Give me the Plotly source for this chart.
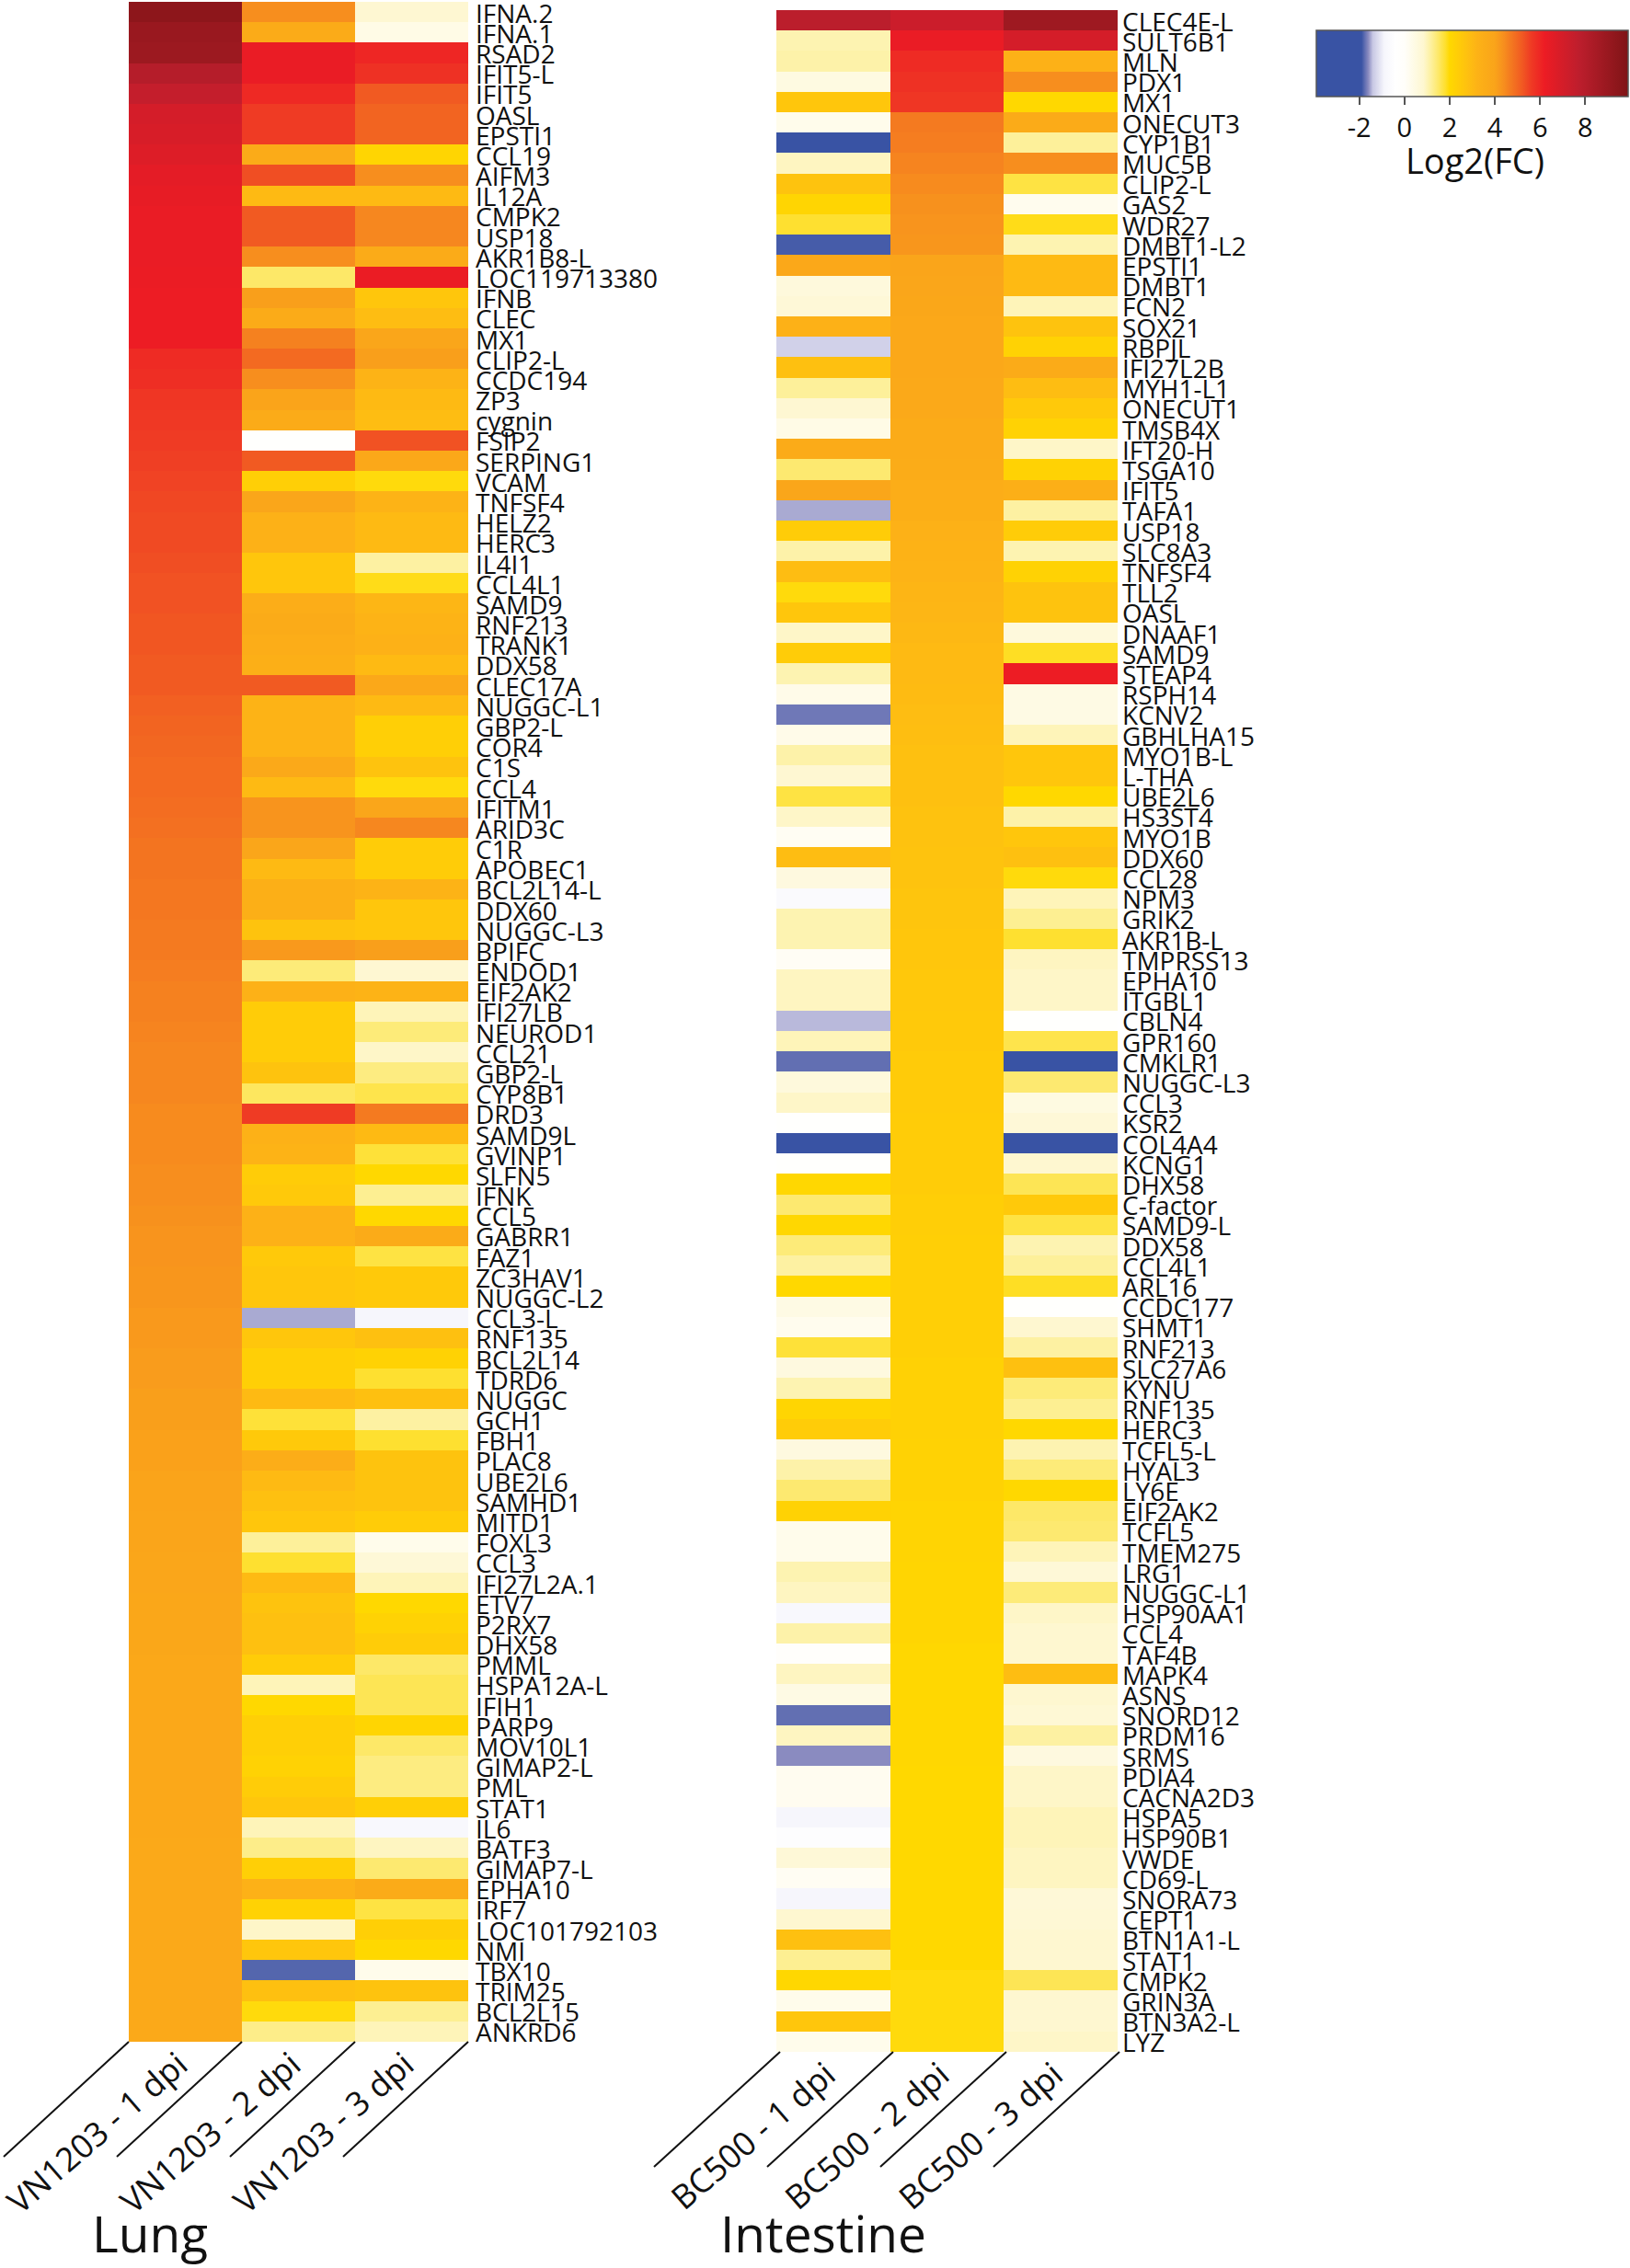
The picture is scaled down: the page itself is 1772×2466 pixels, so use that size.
import plotly.graph_objects as go

W, H = 1772, 2466
FONT = "Open Sans"

lung_genes = ["IFNA.2","IFNA.1","RSAD2","IFIT5-L","IFIT5","OASL","EPSTI1","CCL19","AIFM3","IL12A",
"CMPK2","USP18","AKR1B8-L","LOC119713380","IFNB","CLEC","MX1","CLIP2-L","CCDC194","ZP3",
"cygnin","FSIP2","SERPING1","VCAM","TNFSF4","HELZ2","HERC3","IL4I1","CCL4L1","SAMD9",
"RNF213","TRANK1","DDX58","CLEC17A","NUGGC-L1","GBP2-L","COR4","C1S","CCL4","IFITM1",
"ARID3C","C1R","APOBEC1","BCL2L14-L","DDX60","NUGGC-L3","BPIFC","ENDOD1","EIF2AK2","IFI27LB",
"NEUROD1","CCL21","GBP2-L","CYP8B1","DRD3","SAMD9L","GVINP1","SLFN5","IFNK","CCL5",
"GABRR1","FAZ1","ZC3HAV1","NUGGC-L2","CCL3-L","RNF135","BCL2L14","TDRD6","NUGGC","GCH1",
"FBH1","PLAC8","UBE2L6","SAMHD1","MITD1","FOXL3","CCL3","IFI27L2A.1","ETV7","P2RX7",
"DHX58","PMML","HSPA12A-L","IFIH1","PARP9","MOV10L1","GIMAP2-L","PML","STAT1","IL6",
"BATF3","GIMAP7-L","EPHA10","IRF7","LOC101792103","NMI","TBX10","TRIM25","BCL2L15","ANKRD6"]

lung_d1 = [9.4,9.0,8.9,8.0,7.5,7.0,6.9,6.7,6.5,6.4,
6.3,6.3,6.3,6.25,6.2,6.2,6.2,5.9,5.85,5.7,
5.65,5.6,5.55,5.5,5.45,5.4,5.4,5.35,5.3,5.3,
5.25,5.25,5.2,5.2,5.1,5.05,5.0,4.95,4.95,4.9,
4.85,4.8,4.8,4.75,4.75,4.7,4.7,4.65,4.6,4.6,
4.55,4.5,4.5,4.5,4.45,4.45,4.45,4.4,4.4,4.35,
4.3,4.3,4.25,4.25,4.2,4.2,4.15,4.15,4.1,4.1,
4.05,4.05,4.0,4.0,3.95,3.95,3.9,3.9,3.85,3.85,
3.85,3.8,3.8,3.8,3.8,3.75,3.75,3.75,3.75,3.75,
3.7,3.7,3.7,3.7,3.7,3.7,3.7,3.7,3.7,3.7]
lung_d2 = [4.4,3.6,6.3,6.3,5.95,5.6,5.6,3.6,5.35,3.0,
5.2,5.2,4.4,1.5,4.1,3.6,4.6,4.95,4.4,4.0,
3.6,-0.2,5.2,2.3,3.9,3.3,3.3,2.6,2.6,3.5,
3.6,3.5,3.4,5.2,3.2,3.2,3.2,3.7,3.0,4.3,
4.3,3.9,3.0,3.4,3.4,2.7,4.2,1.4,3.3,2.4,
2.4,2.4,2.7,1.55,5.6,3.3,3.2,2.4,2.5,3.3,
3.3,2.5,2.6,2.6,-1.5,2.6,2.3,2.3,3.0,1.75,
2.5,3.5,3.0,2.8,2.6,1.2,1.8,3.0,2.7,2.8,
2.8,2.4,1.0,2.0,2.3,2.3,2.2,2.4,2.6,1.0,
1.3,2.3,3.3,2.2,0.9,2.6,-1.8,2.8,1.95,1.3]
lung_d3 = [0.8,0.4,6.0,5.8,5.2,5.05,5.05,2.1,4.4,3.0,
4.5,4.5,3.6,6.25,2.6,2.9,3.9,4.1,3.2,3.0,
2.9,5.3,3.8,1.95,3.2,3.0,3.0,1.15,1.9,3.1,
3.2,3.3,3.0,3.8,3.0,2.3,2.3,2.7,1.95,3.9,
4.5,2.4,2.4,3.2,2.6,2.6,4.1,0.8,3.2,1.0,
1.4,0.9,1.35,1.65,4.7,3.0,1.75,2.0,1.25,2.0,
3.6,1.7,2.5,2.5,-0.9,2.8,2.2,1.8,2.8,1.15,
1.8,2.7,2.7,2.7,2.4,0.3,0.7,1.0,2.0,2.2,
2.4,1.5,1.6,1.6,2.1,1.5,1.35,1.35,2.3,-0.8,
0.95,1.45,3.6,1.7,2.3,2.0,0.3,2.7,1.25,1.0]

int_genes = ["CLEC4E-L","SULT6B1","MLN","PDX1","MX1","ONECUT3","CYP1B1","MUC5B","CLIP2-L","GAS2",
"WDR27","DMBT1-L2","EPSTI1","DMBT1","FCN2","SOX21","RBPJL","IFI27L2B","MYH1-L1","ONECUT1",
"TMSB4X","IFT20-H","TSGA10","IFIT5","TAFA1","USP18","SLC8A3","TNFSF4","TLL2","OASL",
"DNAAF1","SAMD9","STEAP4","RSPH14","KCNV2","GBHLHA15","MYO1B-L","L-THA","UBE2L6","HS3ST4",
"MYO1B","DDX60","CCL28","NPM3","GRIK2","AKR1B-L","TMPRSS13","EPHA10","ITGBL1","CBLN4",
"GPR160","CMKLR1","NUGGC-L3","CCL3","KSR2","COL4A4","KCNG1","DHX58","C-factor","SAMD9-L",
"DDX58","CCL4L1","ARL16","CCDC177","SHMT1","RNF213","SLC27A6","KYNU","RNF135","HERC3",
"TCFL5-L","HYAL3","LY6E","EIF2AK2","TCFL5","TMEM275","LRG1","NUGGC-L1","HSP90AA1","CCL4",
"TAF4B","MAPK4","ASNS","SNORD12","PRDM16","SRMS","PDIA4","CACNA2D3","HSPA5","HSP90B1",
"VWDE","CD69-L","SNORA73","CEPT1","BTN1A1-L","STAT1","CMPK2","GRIN3A","BTN3A2-L","LYZ"]

int_d1 = [7.8,1.05,1.1,0.5,2.6,0.3,-1.95,0.95,2.7,2.1,
1.8,-1.85,3.8,0.6,0.7,3.3,-1.3,2.8,1.2,0.8,
0.4,3.6,1.45,3.9,-1.5,2.4,1.1,2.9,1.95,2.6,
0.9,2.4,1.05,0.35,-1.7,0.35,1.1,0.8,1.7,0.9,
0.15,2.9,0.55,-0.7,1.05,1.05,0.1,0.95,0.95,-1.45,
1.0,-1.75,0.6,0.9,-0.2,-2.5,-0.2,2.05,1.45,2.05,
1.4,1.15,2.0,0.45,0.25,1.75,0.55,1.05,2.1,2.4,
0.55,1.1,1.45,2.2,0.3,0.3,1.05,0.95,-0.8,1.1,
-0.1,0.95,0.45,-1.75,0.95,-1.6,0.2,0.2,-0.9,-0.5,
0.7,0.15,-0.9,0.85,2.8,1.25,2.05,0.3,2.6,0.3]
int_d2 = [7.3,6.3,5.9,5.8,5.7,4.7,4.65,4.55,4.45,4.35,
4.3,4.25,3.95,3.9,3.85,3.8,3.8,3.75,3.7,3.7,
3.6,3.6,3.55,3.5,3.45,3.3,3.25,3.2,3.15,3.1,
3.05,3.0,3.0,2.95,2.9,2.85,2.8,2.8,2.8,2.75,
2.75,2.7,2.7,2.65,2.65,2.6,2.6,2.55,2.55,2.5,
2.5,2.45,2.45,2.45,2.4,2.4,2.4,2.4,2.35,2.35,
2.3,2.3,2.3,2.3,2.3,2.3,2.25,2.25,2.25,2.25,
2.2,2.2,2.2,2.15,2.15,2.15,2.1,2.1,2.1,2.1,
2.05,2.05,2.05,2.05,2.05,2.05,2.0,2.0,2.0,2.0,
2.0,2.0,2.0,2.0,2.0,2.0,1.95,1.95,1.95,1.95]
int_d3 = [8.8,7.0,3.3,4.4,2.0,3.6,1.2,4.4,1.7,0.25,
1.9,1.05,3.0,3.0,1.0,2.7,2.2,3.6,2.9,2.5,
2.2,0.9,2.2,3.4,1.15,2.4,1.05,2.2,2.7,2.7,
0.6,1.85,6.2,0.45,0.45,1.0,2.6,2.6,2.0,1.1,
2.6,2.8,1.95,1.0,1.25,1.8,0.95,0.9,0.9,-0.2,
1.65,-2.5,1.45,0.5,0.7,-2.5,0.85,1.6,2.5,1.7,
1.05,1.2,1.85,-0.2,0.85,1.15,2.8,1.4,1.25,2.0,
1.05,1.4,2.0,1.5,1.45,1.0,0.7,1.4,0.9,0.85,
0.85,2.9,0.85,0.75,1.15,0.55,0.9,0.9,1.0,1.0,
0.95,0.95,0.7,0.75,0.85,0.85,1.6,0.85,0.85,0.9]

lung_days = ["VN1203 - 1 dpi","VN1203 - 2 dpi","VN1203 - 3 dpi"]
int_days = ["BC500 - 1 dpi","BC500 - 2 dpi","BC500 - 3 dpi"]
cb_ticks = [-2,0,2,4,6,8]
cb_labels = ["-2","0","2","4","6","8"]
ZMIN, ZMAX = -3.9, 9.9

stops = [(-3.9,"#3953A4"),(-1.9,"#3953A4"),(-1.6,"#8A8BC0"),(-1.4,"#C8C8E4"),(-0.9,"#F6F6FC"),(-0.4,"#FFFFFF"),
         (0.0,"#FFFEFA"),(0.85,"#FEF7D0"),(1.2,"#FDF09A"),(1.5,"#FDE868"),(1.8,"#FEE030"),(2.0,"#FFD800"),
         (2.4,"#FFCC08"),(2.8,"#FEC010"),(3.2,"#FDB316"),(3.6,"#FBAB18"),(4.0,"#FAA41A"),(4.4,"#F78E1E"),
         (4.7,"#F47A20"),(5.2,"#F15A22"),(5.6,"#EF3B24"),(6.2,"#ED1C24"),(7.7,"#BE1E2D"),(9.9,"#7F1416")]
colorscale = [[(v-ZMIN)/(ZMAX-ZMIN), c] for v, c in stops]

fig = go.Figure()
fig.add_trace(go.Heatmap(z=[list(r) for r in zip(lung_d1,lung_d2,lung_d3)], x=lung_days, y=list(range(len(lung_genes))),
                         coloraxis="coloraxis", xaxis="x", yaxis="y", hoverongaps=False))
fig.add_trace(go.Heatmap(z=[list(r) for r in zip(int_d1,int_d2,int_d3)], x=int_days, y=list(range(len(int_genes))),
                         coloraxis="coloraxis", xaxis="x2", yaxis="y2", hoverongaps=False))

def px(x): return x/W
def py(y): return 1-y/H

def xax(left, right, anchor):
    return dict(domain=[px(left),px(right)], anchor=anchor, tickangle=-41, ticks="", showgrid=False, zeroline=False,
                showline=False, automargin=False, ticklabelstandoff=-4, ticklabelshift=-7, ticklabeloverflow="allow",
                tickfont=dict(family=FONT,size=36,color="#111"), fixedrange=True)
def yax(top, bottom, anchor, genes, standoff):
    return dict(domain=[py(bottom),py(top)], anchor=anchor, side="right", autorange="reversed", tickmode="array",
                tickvals=[i+0.08 for i in range(len(genes))], ticktext=genes, ticks="", showgrid=False, zeroline=False, showline=False,
                automargin=False, ticklabelstandoff=standoff, ticklabeloverflow="allow",
                tickfont=dict(family=FONT,size=28,color="#111"), fixedrange=True)

shapes = []
for xs, y0, dx, dy in (((140,263,386,509),2220,136,125),((848,971,1094,1217),2231,137,125)):
    for x in xs:
        shapes.append(dict(type="line", xref="paper", yref="paper", x0=px(x), y0=py(y0), x1=px(x-dx), y1=py(y0+dy),
                           line=dict(color="#111", width=2)))

fig.update_layout(
    template="none",
    width=W, height=H, margin=dict(l=0,r=0,t=0,b=0,pad=0,autoexpand=False), paper_bgcolor="white", plot_bgcolor="white", showlegend=False,
    xaxis=xax(140,509,"y"), yaxis=yax(2,2220,"x",lung_genes,7),
    xaxis2=xax(844,1215,"y2"), yaxis2=yax(11,2231,"x2",int_genes,4),
    coloraxis=dict(colorscale=colorscale, cmin=ZMIN, cmax=ZMAX,
        colorbar=dict(orientation="h", x=px(1431), xanchor="left", y=py(33), yanchor="top", lenmode="pixels", len=339,
                      thicknessmode="pixels", thickness=72, xpad=0, ypad=0, outlinecolor="#555", outlinewidth=1.5,
                      tickmode="array", tickvals=cb_ticks, ticktext=cb_labels, ticks="outside", ticklen=9, tickwidth=2, tickcolor="#555",
                      tickfont=dict(family=FONT,size=29,color="#111"))),
    shapes=shapes,
    annotations=[dict(text="Lung", xref="paper", yref="paper", x=px(163), y=py(2427), xanchor="center", yanchor="middle",
                      showarrow=False, font=dict(family=FONT,size=55,color="#111")),
                 dict(text="Intestine", xref="paper", yref="paper", x=px(895), y=py(2427), xanchor="center", yanchor="middle",
                      showarrow=False, font=dict(family=FONT,size=55,color="#111")),
                 dict(text="Log2(FC)", xref="paper", yref="paper", x=px(1603), y=py(174), xanchor="center", yanchor="middle",
                      showarrow=False, font=dict(family=FONT,size=38,color="#111"))],
)
fig.write_html("out.html", config={"displayModeBar": False}, post_script="document.body.style.margin='0';")
